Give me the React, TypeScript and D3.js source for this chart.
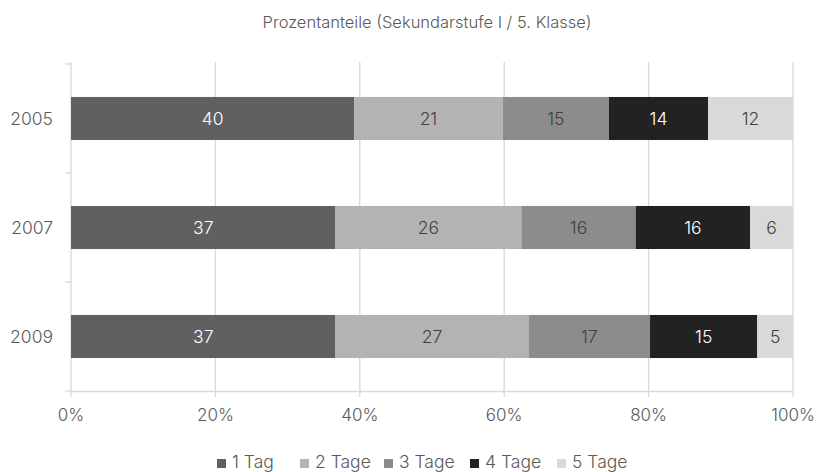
import React from "react";
import * as d3 from "d3";

const categories = ["2005", "2007", "2009"];
const seriesNames = ["1 Tag", "2 Tage", "3 Tage", "4 Tage", "5 Tage"];
const s1 = [40, 37, 37];
const s2 = [21, 26, 27];
const s3 = [15, 16, 17];
const s4 = [14, 16, 15];
const s5 = [12, 6, 5];
const seriesValues = [s1, s2, s3, s4, s5];
const colors = ["#606060", "#b3b3b3", "#8c8c8c", "#222222", "#d9d9d9"];
const labelColors = ["#ffffff", "#404040", "#404040", "#ffffff", "#404040"];
const xTicks = [0, 0.2, 0.4, 0.6, 0.8, 1.0];
const title = "Prozentanteile (Sekundarstufe I / 5. Klasse)";

const W = 819, H = 472;
const FONT = "Inter, 'Liberation Sans', sans-serif";
const TEXT = "#595959";
const FW = 300;

export default function App() {
  const x = d3.scaleLinear().domain([0, 1]).range([71, 793]);
  const y = d3.scaleBand().domain(categories).range([64, 391]).paddingInner(0.605).paddingOuter(0.3025);
  const band = d3.scaleBand().domain(categories).range([64, 391]);

  const rows = categories.map((c, i) => {
    const vals = seriesValues.map((s) => s[i]);
    const total = d3.sum(vals);
    let acc = 0;
    return vals.map((v, k) => {
      const x0 = acc / total;
      acc += v;
      return { c, k, v, x0, x1: acc / total };
    });
  });

  const legendX = [217, 300, 384, 470, 557];

  return (
    <svg width={W} height={H} style={{ position: "absolute", left: 0, top: 0, background: "#fff" }}>
      <text x={427} y={28} textAnchor="middle" fontFamily={FONT} fontWeight={FW} fontSize={16.5} fill={TEXT}>{title}</text>
      {xTicks.map((t) => (
        <line key={t} x1={x(t)} x2={x(t)} y1={62} y2={397} stroke="#d9d9d9" strokeWidth={1.3} />
      ))}
      <line x1={71} x2={793} y1={391.5} y2={391.5} stroke="#d9d9d9" strokeWidth={1.3} />
      {[0, 1, 2, 3].map((i) => {
        const yy = i < 3 ? band(categories[i])! : 391;
        return <line key={i} x1={65} x2={71} y1={yy} y2={yy} stroke="#d9d9d9" strokeWidth={1.3} />;
      })}
      {rows.map((r) =>
        r.map((d) => (
          <rect key={d.c + d.k} x={x(d.x0)} y={y(d.c)} width={x(d.x1) - x(d.x0)} height={y.bandwidth()} fill={colors[d.k]} />
        ))
      )}
      {rows.map((r) =>
        r.map((d) => (
          <text key={"t" + d.c + d.k} x={(x(d.x0) + x(d.x1)) / 2} y={y(d.c)! + y.bandwidth() / 2 + 6.5} textAnchor="middle" fontFamily={FONT} fontWeight={FW} fontSize={17.5} fill={labelColors[d.k]}>{d.v}</text>
        ))
      )}
      {categories.map((c) => (
        <text key={c} x={53} y={y(c)! + y.bandwidth() / 2 + 6.5} textAnchor="end" fontFamily={FONT} fontWeight={FW} fontSize={17.5} fill={TEXT}>{c}</text>
      ))}
      {xTicks.map((t) => (
        <text key={"x" + t} x={x(t)} y={421} textAnchor="middle" fontFamily={FONT} fontWeight={FW} fontSize={17} fill={TEXT}>{d3.format(".0%")(t)}</text>
      ))}
      {seriesNames.map((n, k) => (
        <g key={n}>
          <rect x={legendX[k]} y={459} width={9} height={9} fill={colors[k]} />
          <text x={legendX[k] + 15} y={468} fontFamily={FONT} fontWeight={FW} fontSize={17.5} fill={TEXT}>{n}</text>
        </g>
      ))}
    </svg>
  );
}
